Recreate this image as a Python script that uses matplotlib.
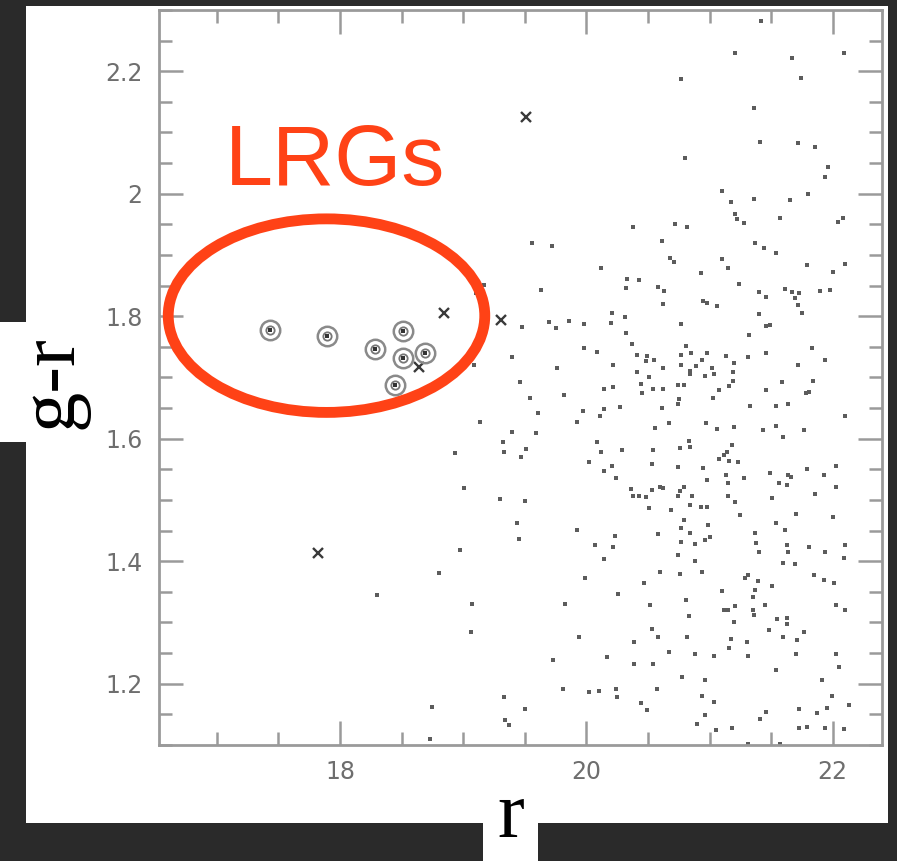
import numpy as np
import matplotlib.pyplot as plt
from matplotlib.patches import Ellipse, Rectangle
from matplotlib.ticker import MultipleLocator, FuncFormatter

# LRG candidates (circled)
lrg_r = [17.43, 17.89, 18.28, 18.51, 18.51, 18.69, 18.45]
lrg_gr = [1.777, 1.768, 1.747, 1.776, 1.732, 1.740, 1.687]

# other objects marked with a cross
cross_r = [18.84, 18.64, 19.31, 19.51, 17.82]
cross_gr = [1.805, 1.717, 1.794, 2.126, 1.413]

# field objects (small dots), (r, g-r)
dots_left = [
    (18.30, 1.345), (18.80, 1.380), (18.75, 1.162), (18.73, 1.110), (19.17, 1.851),
    (19.10, 1.838), (19.09, 1.721), (18.93, 1.576), (19.01, 1.519), (18.97, 1.419),
    (19.07, 1.331), (19.06, 1.285), (19.14, 1.627), (19.33, 1.178), (19.34, 1.140),
    (19.37, 1.132), (19.50, 1.158),
]
dots_top = [
    (20.38, 1.945), (19.56, 1.919), (19.72, 1.915), (21.42, 2.282), (21.21, 2.229),
    (21.67, 2.221), (22.09, 2.230), (20.77, 2.188), (21.74, 2.189), (21.36, 2.140),
    (21.41, 2.085), (21.72, 2.083), (21.86, 2.077), (20.80, 2.058), (21.96, 2.043),
    (21.94, 2.028), (21.10, 2.004), (21.17, 1.986), (21.36, 1.992), (21.65, 1.990),
    (21.80, 2.000), (21.21, 1.967), (21.22, 1.959), (21.28, 1.953), (21.57, 1.961),
    (22.04, 1.954), (22.08, 1.960), (20.72, 1.950), (20.82, 1.945), (20.61, 1.923),
    (21.37, 1.919), (21.44, 1.911), (21.54, 1.903),
]
dots_mid_left = [
    (20.12, 1.878), (20.33, 1.861), (20.43, 1.859), (20.32, 1.846), (20.58, 1.848),
    (19.63, 1.843), (20.21, 1.805), (20.31, 1.799), (20.20, 1.789), (19.48, 1.782),
    (19.70, 1.791), (19.75, 1.781), (19.86, 1.792), (19.98, 1.788), (20.32, 1.773),
    (20.37, 1.754), (19.98, 1.748), (20.09, 1.741), (19.40, 1.734), (20.22, 1.720),
    (20.41, 1.736), (20.49, 1.735), (20.55, 1.729), (20.48, 1.727), (19.76, 1.715),
    (20.41, 1.709), (20.51, 1.700), (19.46, 1.692), (20.44, 1.689), (20.54, 1.681),
    (20.14, 1.681), (20.22, 1.684), (20.45, 1.674), (19.82, 1.671), (19.54, 1.667),
    (20.27, 1.652), (20.14, 1.648), (19.97, 1.646), (20.11, 1.637), (19.92, 1.628),
    (19.61, 1.642), (19.40, 1.611), (19.59, 1.610), (20.56, 1.617), (19.32, 1.595),
    (19.33, 1.579), (19.51, 1.584), (19.47, 1.570), (20.09, 1.595), (20.12, 1.579),
    (20.29, 1.581), (20.54, 1.581), (20.02, 1.562), (20.21, 1.555), (20.14, 1.547),
    (20.24, 1.536), (20.53, 1.559), (20.36, 1.518), (20.38, 1.507), (20.43, 1.506),
    (20.48, 1.505), (20.53, 1.517), (20.60, 1.522), (19.30, 1.501), (19.50, 1.499),
]
dots_mid_right = [
    (20.71, 1.889), (20.68, 1.895), (21.10, 1.893), (21.15, 1.879), (20.93, 1.871),
    (21.79, 1.884), (22.10, 1.885), (22.00, 1.872), (21.24, 1.852), (20.63, 1.841),
    (20.62, 1.820), (21.40, 1.840), (21.46, 1.832), (21.61, 1.844), (21.67, 1.840),
    (21.73, 1.838), (21.69, 1.830), (21.72, 1.818), (21.75, 1.805), (21.90, 1.841),
    (21.98, 1.843), (20.95, 1.825), (20.98, 1.821), (21.06, 1.816), (20.77, 1.788),
    (21.40, 1.803), (21.46, 1.784), (21.49, 1.786), (21.32, 1.769), (20.81, 1.752),
    (20.85, 1.740), (20.77, 1.736), (20.98, 1.740), (20.94, 1.729), (21.13, 1.735),
    (21.20, 1.723), (20.77, 1.721), (20.89, 1.718), (21.02, 1.716), (20.62, 1.716),
    (20.84, 1.705), (20.84, 1.710), (20.96, 1.703), (21.04, 1.705), (21.19, 1.709),
    (21.19, 1.695), (21.16, 1.686), (21.31, 1.733), (21.46, 1.740), (21.83, 1.748),
    (21.94, 1.729), (21.72, 1.721), (21.59, 1.692), (21.84, 1.695), (20.74, 1.687),
    (20.79, 1.687), (20.62, 1.681), (21.08, 1.679), (21.03, 1.667), (21.46, 1.679),
    (21.81, 1.676), (21.78, 1.675), (20.75, 1.665), (20.74, 1.657), (20.61, 1.650),
    (21.33, 1.653), (21.54, 1.653), (21.64, 1.657), (22.10, 1.637), (20.67, 1.625),
    (20.97, 1.626), (21.06, 1.616), (21.20, 1.619), (21.43, 1.615), (21.54, 1.620),
    (21.60, 1.603), (21.77, 1.615), (20.83, 1.596), (20.76, 1.585), (20.84, 1.586),
    (21.18, 1.589), (21.14, 1.579), (21.12, 1.574), (21.08, 1.567), (21.16, 1.564),
    (21.23, 1.562), (20.74, 1.554), (20.95, 1.552), (20.98, 1.532), (21.13, 1.540),
    (21.15, 1.527), (21.28, 1.536), (21.49, 1.544), (21.56, 1.527), (21.64, 1.540),
    (21.66, 1.537), (21.63, 1.524), (21.79, 1.551), (21.93, 1.541), (22.03, 1.555),
    (22.03, 1.522), (20.62, 1.519), (20.79, 1.522), (20.76, 1.514), (20.74, 1.507),
    (20.86, 1.506), (21.15, 1.507), (21.51, 1.503), (21.86, 1.509),
]
dots_low_left = [
    (19.44, 1.462), (19.45, 1.436), (19.92, 1.451), (20.07, 1.427), (20.23, 1.441),
    (20.22, 1.423), (20.14, 1.404), (20.51, 1.487), (20.58, 1.445), (20.60, 1.383),
    (19.99, 1.373), (20.47, 1.364), (19.83, 1.330), (20.26, 1.347), (20.52, 1.328),
    (19.94, 1.277), (20.53, 1.289), (20.58, 1.277), (20.39, 1.268), (19.73, 1.239),
    (20.17, 1.243), (20.39, 1.233), (20.54, 1.233), (19.81, 1.192), (20.02, 1.187),
    (20.10, 1.188), (20.24, 1.192), (20.25, 1.178), (20.57, 1.191), (20.44, 1.169),
    (20.49, 1.157),
]
dots_low_right = [
    (20.69, 1.484), (20.84, 1.492), (20.93, 1.488), (20.98, 1.488), (21.21, 1.496),
    (20.79, 1.468), (20.77, 1.455), (20.84, 1.446), (20.99, 1.459), (21.25, 1.476),
    (20.77, 1.432), (20.88, 1.428), (20.96, 1.435), (21.00, 1.440), (20.74, 1.410),
    (20.88, 1.400), (20.76, 1.379), (20.94, 1.383), (21.10, 1.352), (21.29, 1.373),
    (21.31, 1.378), (21.39, 1.367), (21.37, 1.353), (21.35, 1.342), (21.51, 1.360),
    (21.54, 1.462), (21.61, 1.451), (21.70, 1.477), (22.00, 1.472), (21.37, 1.446),
    (21.38, 1.430), (21.40, 1.415), (21.63, 1.426), (21.64, 1.415), (21.81, 1.423),
    (21.94, 1.415), (22.10, 1.427), (22.09, 1.406), (21.60, 1.397), (21.69, 1.396),
    (21.85, 1.378), (21.93, 1.369), (22.01, 1.364), (20.81, 1.336), (20.83, 1.311),
    (21.12, 1.321), (21.15, 1.320), (21.21, 1.327), (21.35, 1.320), (21.36, 1.312),
    (21.45, 1.328), (21.20, 1.301), (21.55, 1.306), (21.63, 1.307), (21.63, 1.298),
    (22.03, 1.328), (22.10, 1.321), (21.48, 1.288), (21.77, 1.285), (20.82, 1.277),
    (21.17, 1.273), (21.16, 1.259), (21.30, 1.268), (21.60, 1.277), (21.71, 1.271),
    (20.67, 1.252), (20.88, 1.248), (21.04, 1.245), (21.31, 1.245), (21.70, 1.248),
    (22.03, 1.248), (22.05, 1.227), (21.54, 1.222), (20.78, 1.211), (20.96, 1.206),
    (21.91, 1.206), (20.94, 1.180), (21.04, 1.170), (21.99, 1.180), (22.13, 1.166),
    (21.95, 1.161), (21.87, 1.153), (21.73, 1.158), (20.96, 1.149), (21.46, 1.154),
    (21.41, 1.142), (20.90, 1.134), (21.05, 1.124), (21.18, 1.127), (21.73, 1.128),
    (21.79, 1.129), (21.94, 1.128), (22.09, 1.126), (21.31, 1.101), (21.57, 1.101),
]

W, H = 897, 861
red = '#FF4216'

fig = plt.figure(figsize=(W / 100, H / 100), dpi=100, facecolor='#2a2a2a')

# white panels
fig.add_artist(Rectangle((26 / W, 1 - 823 / H), 862 / W, 817 / H,
                         transform=fig.transFigure, fc='white', ec='none', zorder=0))
fig.add_artist(Rectangle((0, 1 - 442 / H), 30 / W, 120 / H,
                         transform=fig.transFigure, fc='white', ec='none', zorder=0))
fig.add_artist(Rectangle((483 / W, 0), 55 / W, 40 / H,
                         transform=fig.transFigure, fc='white', ec='none', zorder=0))

ax = fig.add_axes([159 / W, 1 - 745 / H, 723 / W, 735 / H])
ax.set_facecolor('white')
ax.set_xlim(16.53, 22.40)
ax.set_ylim(1.10, 2.30)

all_dots = dots_left + dots_top + dots_mid_left + dots_mid_right + dots_low_left + dots_low_right
r_dots, gr_dots = zip(*all_dots)
ax.plot(r_dots, gr_dots, ls='none', marker='s', ms=2.8, mew=0, color='#5c5c5c')

ax.plot(cross_r, cross_gr, ls='none', marker='x', ms=7.5, mew=1.7, color='#3a3a3a')

ax.plot(lrg_r, lrg_gr, ls='none', marker='o', ms=14, mfc='none', mec='#8a8a8a', mew=1.8)
ax.plot(lrg_r, lrg_gr, ls='none', marker='o', ms=6, mfc='none', mec='#777777', mew=1.3)
ax.plot(lrg_r, lrg_gr, ls='none', marker='s', ms=2.6, mew=0, color='#333333')

ax.add_patch(Ellipse((17.89, 1.801), 2.57, 0.316, fill=False, ec=red, lw=7.8,
                     clip_on=False, zorder=6))

# axes styling
for s in ax.spines.values():
    s.set_color('#9a9a9a')
    s.set_linewidth(2)
ax.xaxis.set_major_locator(MultipleLocator(2))
ax.xaxis.set_minor_locator(MultipleLocator(0.5))
ax.yaxis.set_major_locator(MultipleLocator(0.2))
ax.yaxis.set_minor_locator(MultipleLocator(0.05))
fmt = FuncFormatter(lambda v, p: f'{v:g}')
ax.xaxis.set_major_formatter(fmt)
ax.yaxis.set_major_formatter(fmt)
ax.tick_params(which='both', direction='in', top=True, right=True, color='#9a9a9a',
               width=1.8, labelcolor='#6e6e6e', labelsize=17)
ax.tick_params(which='major', length=17)
ax.tick_params(which='minor', length=9.5)
ax.tick_params(axis='y', pad=12)
ax.tick_params(axis='x', pad=11)

fig.text(335 / W, 1 - 185 / H, 'LRGs', color=red, fontsize=62,
         family='Liberation Sans', ha='center', va='baseline')
fig.text(52 / W, 1 - 382 / H, 'g-r', rotation=90, fontsize=58,
         family='Liberation Serif', ha='center', va='center', color='black')
fig.text(511 / W, 1 - 837 / H, 'r', fontsize=58,
         family='Liberation Serif', ha='center', va='baseline', color='black')

fig.savefig('out.png', dpi=100, facecolor=fig.get_facecolor())
